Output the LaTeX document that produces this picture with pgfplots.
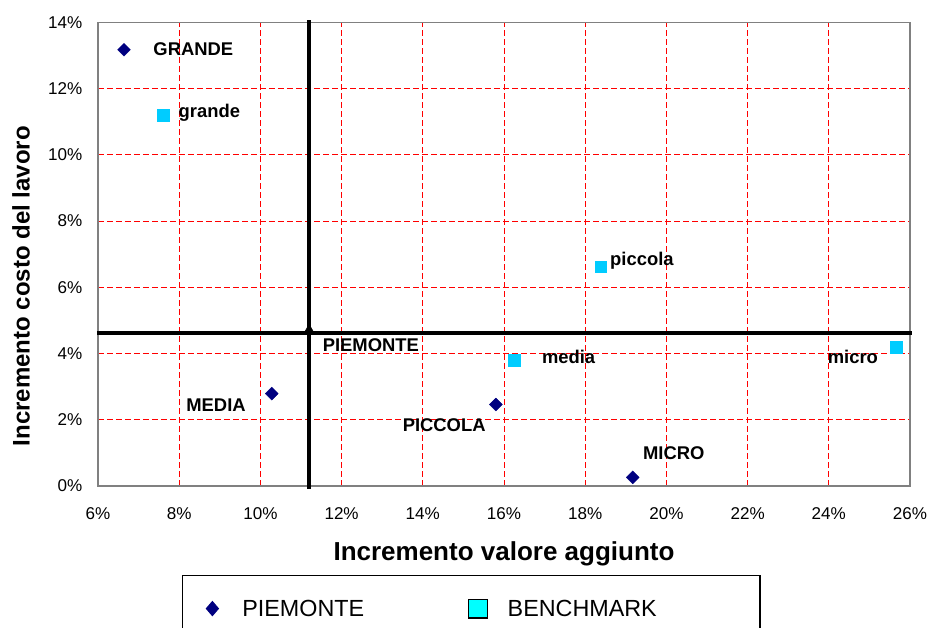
\documentclass[border=0pt]{standalone}
\usepackage{fontspec}
\setmainfont{Liberation Sans}
\usepackage{pgfplots}
\pgfplotsset{compat=1.18}
\definecolor{navyp}{HTML}{000080}
\definecolor{cyanb}{HTML}{00CCFF}
\definecolor{cyanl}{HTML}{00FFFF}
\definecolor{framegray}{HTML}{808080}

\begin{document}
\begin{tikzpicture}
\begin{axis}[
  scale only axis, width=609pt, height=347.8pt,
  xmin=6, xmax=26, ymin=0, ymax=14,
  xtick={6,8,...,26}, ytick={0,2,...,14},
  major tick length=0pt,
  grid=major,
  major grid style={red, line width=0.6pt, dash pattern=on 4.5pt off 2.25pt},
  axis line style={framegray, line width=0.9pt},
  clip=false,
  /pgf/number format/assume math mode=true,
  xticklabel={\pgfmathprintnumber{\tick}\%},
  yticklabel={\pgfmathprintnumber{\tick}\%},
  tick label style={font=\fontsize{12.8}{14}\selectfont, inner sep=0pt},
  xticklabel style={anchor=base, yshift=-25pt},
  yticklabel style={anchor=east, xshift=-11.5pt},
  xlabel={Incremento valore aggiunto},
  ylabel={Incremento costo del lavoro},
  xlabel style={font=\fontsize{19.5}{22}\selectfont\bfseries, at={(axis description cs:0.5,-0.1596)}, anchor=base, inner sep=0pt},
  ylabel style={font=\fontsize{18}{21}\selectfont\bfseries, at={(axis description cs:-0.0948,0.431)}, anchor=center, inner sep=0pt},
  legend columns=2,
  legend cell align=left,
  legend style={at={(axis description cs:0.1031,-0.1913)}, anchor=north west,
    draw=black, line width=0.8pt, inner xsep=0pt, inner ysep=17.5pt,
    column sep=0pt,
    nodes={inner sep=0pt, text depth=0pt, font=\fontsize{17.5}{20}\selectfont}},
]
% PIEMONTE
\addplot[only marks, color=navyp, mark=square*, mark size=3.4pt,
  mark options={rotate=45, fill=navyp, draw=navyp, line width=0.3pt},
  legend image code/.code={\path (0pt,0pt) (44.25pt,0pt);
    \fill[navyp] (22.2pt,5.25pt) -- (26.7pt,0pt) -- (22.2pt,-5.25pt) -- (17.7pt,0pt) -- cycle;}]
  coordinates {(6.64,13.17) (10.28,2.79) (15.80,2.46) (19.17,0.26)};
\addlegendentry{\makebox[160.75pt][l]{PIEMONTE}}
% BENCHMARK
\addplot[only marks, color=cyanb, mark=square*, mark size=4.3pt,
  mark options={fill=cyanb, draw=cyanb, line width=0.2pt},
  legend image code/.code={\path (0pt,0pt) (37.5pt,0pt);
    \draw[fill=cyanl, draw=black, line width=1pt] (8.7pt,-7pt) rectangle (22.7pt,7pt);}]
  coordinates {(7.61,11.20) (18.38,6.62) (16.25,3.80) (25.66,4.19)};
\addlegendentry{\makebox[189.2pt][l]{BENCHMARK}}
% crosshair (PIEMONTE totale)
\addplot[black, line width=2.8pt, forget plot] coordinates {(5.975,4.61) (26.05,4.61)};
\addplot[black, line width=2.6pt, forget plot] coordinates {(11.20,-0.09) (11.20,14.07)};
\addplot[only marks, mark=triangle*, mark size=4.5pt, black, forget plot] coordinates {(11.20,4.70)};

\begin{scope}[every node/.style={inner sep=0pt, anchor=base west, font=\fontsize{13.8}{16}\selectfont\bfseries}]
\node at (axis cs:7.36,13.01) {GRANDE};
\node at (axis cs:11.53,4.07) {PIEMONTE};
\node at (axis cs:8.17,2.26) {MEDIA};
\node at (axis cs:13.50,1.64) {PICCOLA};
\node at (axis cs:19.42,0.81) {MICRO};
\node at (axis cs:7.98,11.13) {grande};
\node at (axis cs:18.61,6.67) {piccola};
\node at (axis cs:16.93,3.70) {media};
\node at (axis cs:23.97,3.70) {micro};
\end{scope}
\end{axis}
\pgfresetboundingbox
\path[use as bounding box] (-73.5pt,-106.5pt) rectangle (623.25pt,364.5pt);
\end{tikzpicture}
\end{document}
